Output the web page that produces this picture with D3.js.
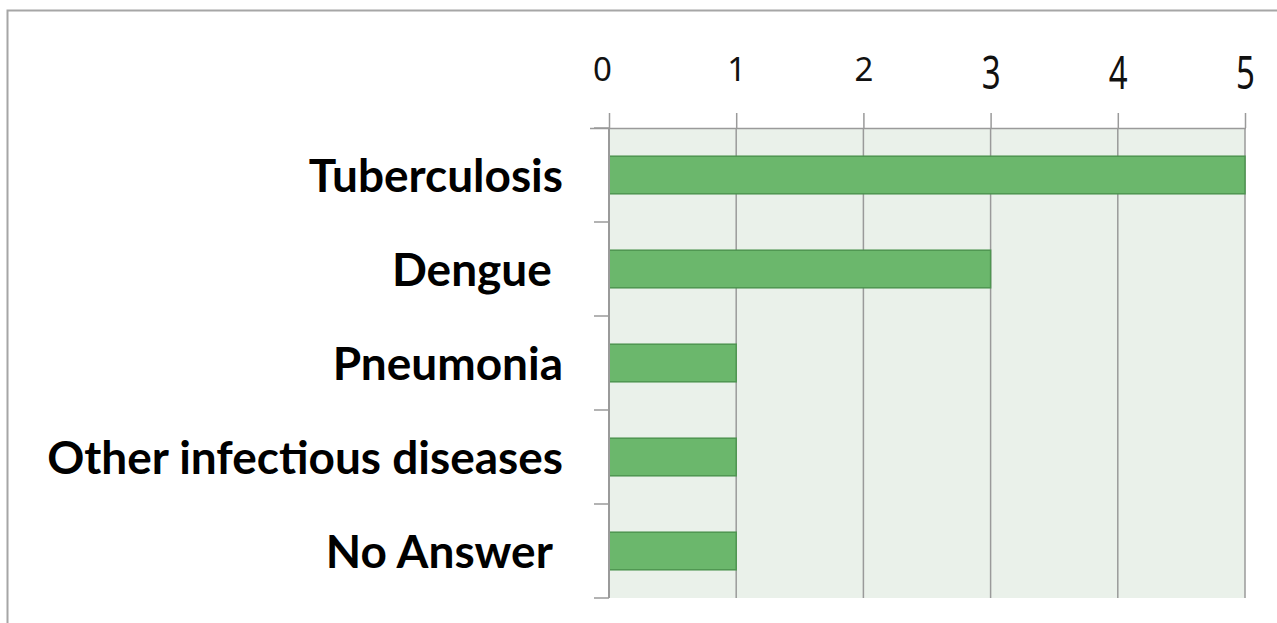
<!DOCTYPE html>
<html>
<head>
<meta charset="utf-8">
<script src="https://cdn.jsdelivr.net/npm/d3@7"></script>
<style>
  body { margin: 0; background: #fff; }
  svg { display: block; }
</style>
</head>
<body>
<svg id="chart"></svg>
<script>
// Data
const categories = ["Tuberculosis", "Dengue ", "Pneumonia", "Other infectious diseases", "No Answer "];
const counts = [5, 3, 1, 1, 1];
const tickValues = [0, 1, 2, 3, 4, 5];

const W = 1277, H = 623;
const margin = {top: 128, right: 32, bottom: 25, left: 609};
const width = W - margin.left - margin.right,
      height = H - margin.top - margin.bottom;

const svg = d3.select("#chart")
    .attr("width", W)
    .attr("height", H);

// frame: only top and left edges visible
svg.append("path")
    .attr("d", `M7.5,${H} V10.5 H${W}`)
    .attr("fill", "none")
    .attr("stroke", "#a6a6a6")
    .attr("stroke-width", 2);

const g = svg.append("g")
    .attr("transform", `translate(${margin.left},${margin.top})`);

const x = d3.scaleLinear().domain([0, 5]).range([0, width]);
const y = d3.scaleBand().domain(categories).range([0, height]).paddingInner(0.6).paddingOuter(0.3);
const yBand = d3.scaleBand().domain(categories).range([0, height]);

// plot background
g.append("rect")
    .attr("width", width)
    .attr("height", height)
    .attr("fill", "#eaf1ea");

// vertical gridlines
g.selectAll(".grid")
    .data(tickValues.slice(1))
    .join("line")
    .attr("class", "grid")
    .attr("x1", d => x(d)).attr("x2", d => x(d))
    .attr("y1", 0).attr("y2", height)
    .attr("stroke", "#9a9a9a")
    .attr("stroke-width", 1.5);

// bars
g.selectAll(".bar")
    .data(categories)
    .join("rect")
    .attr("class", "bar")
    .attr("x", x(0))
    .attr("y", d => y(d))
    .attr("width", (d, i) => x(counts[i]) - x(0))
    .attr("height", y.bandwidth())
    .attr("fill", "#6bb76c")
    .attr("stroke", "#4e9550")
    .attr("stroke-width", 1.5);

// top axis
const xAxis = g.append("g")
    .call(d3.axisTop(x).tickValues(tickValues).tickFormat(d3.format("d")).tickSize(15).tickSizeOuter(0));
xAxis.select(".domain").attr("d", `M-19,0.5H${width + 1}`).attr("stroke", "#9a9a9a").attr("stroke-width", 1.5);
xAxis.selectAll(".tick line").attr("stroke", "#9a9a9a").attr("stroke-width", 1.5);
xAxis.selectAll(".tick text")
    .attr("x", d => d === 0 ? -7 : 0)
    .attr("y", -47)
    .attr("font-family", "'Noto Sans', 'Open Sans', sans-serif")
    .attr("font-size", 33)
    .attr("fill", "#111")
    .attr("transform", d => d >= 3 ? "translate(0,-70) scale(1,1.36) translate(0,70)" : null);

// left axis (ticks at band boundaries)
const leftTicks = categories.map(c => yBand(c)).concat([height]);
g.append("line")
    .attr("x1", 0).attr("x2", 0)
    .attr("y1", 0).attr("y2", height)
    .attr("stroke", "#9a9a9a").attr("stroke-width", 2);
g.selectAll(".ytick")
    .data(leftTicks)
    .join("line")
    .attr("class", "ytick")
    .attr("x1", -15).attr("x2", 0)
    .attr("y1", d => d).attr("y2", d => d)
    .attr("stroke", "#9a9a9a").attr("stroke-width", 1.5);

// category labels
const labels = g.selectAll(".cat")
    .data(categories)
    .join("text")
    .attr("class", "cat")
    .attr("x", -46)
    .attr("y", d => yBand(d) + yBand.bandwidth() / 2)
    .attr("dy", "0.36em")
    .attr("text-anchor", "end")
    .style("white-space", "pre")
    .attr("font-family", "Lato, 'Open Sans', sans-serif")
    .attr("font-weight", "bold")
    .attr("font-size", 40)
    .attr("fill", "#000")
    .text(d => d);

// fit longest label to the reference width
const longest = labels.filter(d => d === "Other infectious diseases").node();
const len = longest.getComputedTextLength();
labels.attr("font-size", 40 * 516 / len);
</script>
</body>
</html>
